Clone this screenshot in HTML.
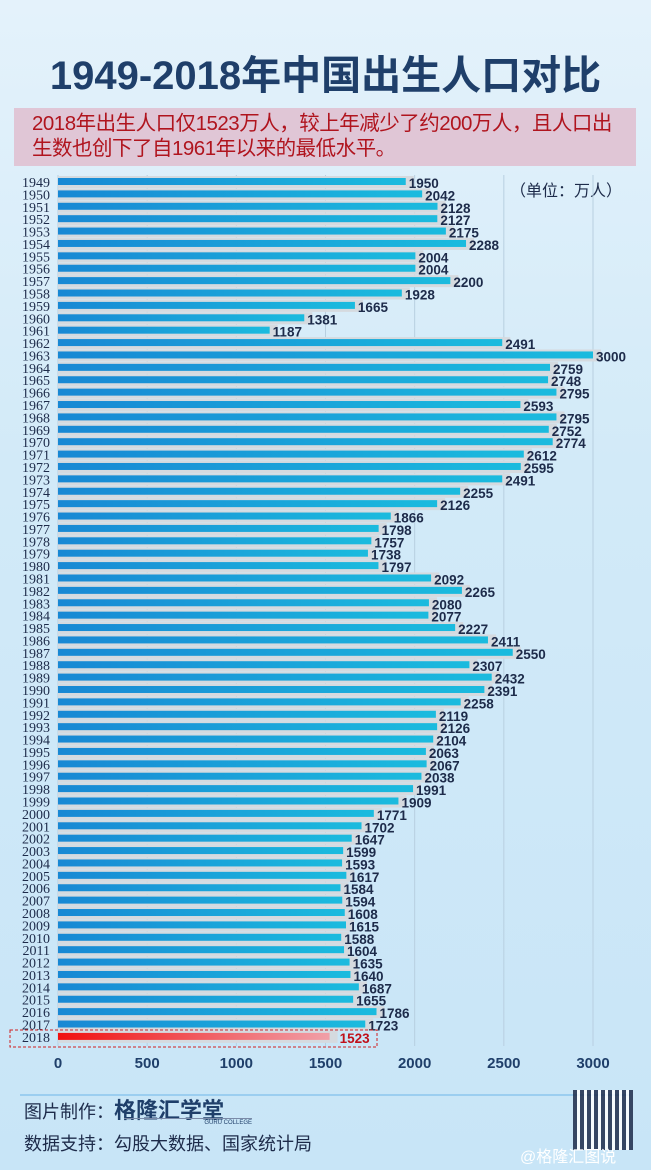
<!DOCTYPE html>
<html><head><meta charset="utf-8">
<style>
html,body{margin:0;padding:0}
body{width:651px;height:1170px;overflow:hidden;background:linear-gradient(180deg,#e4f2fb 0%,#d2eaf8 40%,#c8e5f7 100%);position:relative;font-family:"Liberation Sans","Noto Sans CJK SC",sans-serif}
.title{position:absolute;left:0;width:651px;top:46px;text-align:center;font-size:40px;font-weight:bold;color:#1f3f6a;line-height:60px}
.sub{position:absolute;left:14px;top:108px;width:604px;height:55px;background:#e0c6d6;color:#b0141e;font-size:20.5px;line-height:25px;padding:3px 0 0 18px;box-sizing:content-box;letter-spacing:-0.5px}
.unit{position:absolute;left:510px;top:177px;font-size:16px;color:#1d2b4a}
svg{position:absolute;left:0;top:0}
.foot{position:absolute;left:24px;font-size:18px;color:#1d2b4a}
</style></head><body>
<div class="title">1949-2018年中国出生人口对比</div>
<div class="sub">2018年出生人口仅1523万人，较上年减少了约200万人，且人口出<br>生数也创下了自1961年以来的最低水平。</div>
<div class="unit">（单位：万人）</div>
<svg id="s" width="651" height="1170" xmlns="http://www.w3.org/2000/svg">
<defs>
<linearGradient id="b" x1="0" x2="1"><stop offset="0" stop-color="#1888d4"/><stop offset="1" stop-color="#1bbbde"/></linearGradient>
<linearGradient id="r" x1="0" x2="1"><stop offset="0" stop-color="#f01010"/><stop offset="1" stop-color="#f0a0a8"/></linearGradient>
</defs>
<g id="g"></g>
</svg>
<div class="foot" style="top:1093px">图片制作：<span style="font-weight:bold;font-size:22px;color:#1f3f6a">格隆汇学堂</span></div>
<div style="position:absolute;left:124px;top:1118px;width:128px;border-top:1px solid #7a8aa8;font-size:6px;color:#1f3f6a;text-align:right;line-height:8px">GURU COLLEGE</div>
<div class="foot" style="top:1130px">数据支持：勾股大数据、国家统计局</div>
<div style="position:absolute;left:573px;top:1090px;width:60px;height:60px;background:repeating-linear-gradient(90deg,#1d2b4a 0 4px,#fff 4px 7px),#1d2b4a;opacity:.85"></div>
<div style="position:absolute;left:520px;top:1143px;font-size:16px;color:#fff">@格隆汇图说</div>
<script>
var d=[1950,2042,2128,2127,2175,2288,2004,2004,2200,1928,1665,1381,1187,2491,3000,2759,2748,2795,2593,2795,2752,2774,2612,2595,2491,2255,2126,1866,1798,1757,1738,1797,2092,2265,2080,2077,2227,2411,2550,2307,2432,2391,2258,2119,2126,2104,2063,2067,2038,1991,1909,1771,1702,1647,1599,1593,1617,1584,1594,1608,1615,1588,1604,1635,1640,1687,1655,1786,1723,1523];
var x0=58,k=535/3000,h='';
for(var v=0;v<=3000;v+=500){var x=x0+v*k;h+='<line x1="'+x+'" y1="175" x2="'+x+'" y2="1046" stroke="#b8cfe0" stroke-width="1"/>';h+='<text x="'+x+'" y="1068" text-anchor="middle" font-size="15" font-weight="bold" fill="#1f3f6a" font-family="Liberation Sans">'+v+'</text>';}
for(var i=0;i<70;i++){var y=182+i*12.39,w=d[i]*k,last=i==69;
h+='<rect x="'+x0+'" y="'+(y-6)+'" width="'+(w+8)+'" height="12" fill="#d5dadf"/>';
h+='<rect x="'+x0+'" y="'+(y-4)+'" width="'+w+'" height="7" fill="url(#'+(last?'r':'b')+')"/>';
h+='<text x="50" y="'+(y+5)+'" text-anchor="end" font-size="14" fill="#1d2b4a" font-family="Liberation Serif">'+(1949+i)+'</text>';
h+='<text x="'+(x0+w+(last?10:3))+'" y="'+(y+6)+'" font-size="13.5" font-weight="bold" fill="'+(last?'#c0101a':'#1d2b4a')+'" font-family="Liberation Sans">'+d[i]+'</text>';}
h+='<rect x="10" y="1030" width="367" height="17" fill="none" stroke="#d02020" stroke-dasharray="3,2"/>';
h+='<line x1="20" y1="1095" x2="630" y2="1095" stroke="#8cc6ee" stroke-width="1.5"/>';
document.getElementById('g').innerHTML=h;
</script>
</body></html>
